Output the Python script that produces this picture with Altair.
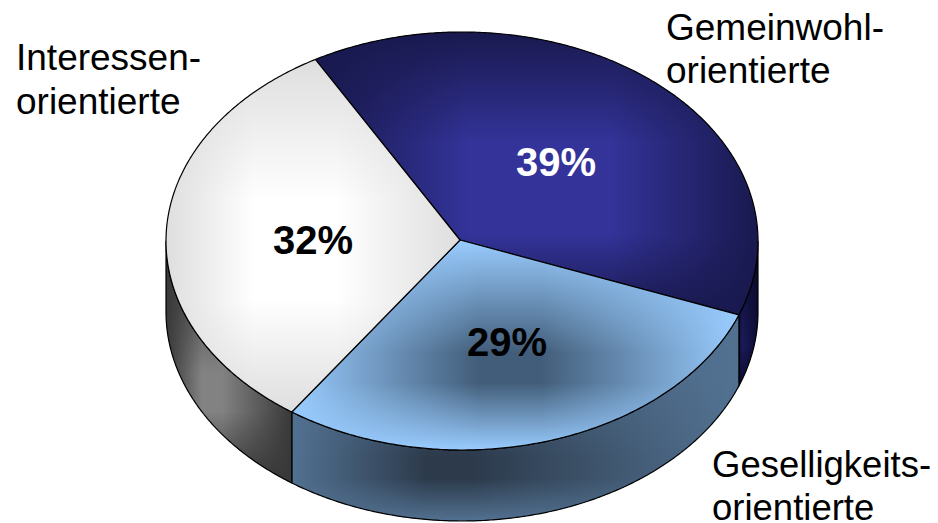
import math
import altair as alt
import pandas as pd

# --- chart values ---
categories = ["Gemeinwohlorientierte", "Geselligkeitsorientierte", "Interessenorientierte"]
shares = [39, 29, 32]
share_labels = ["39%", "29%", "32%"]
start_angle = -29.7

# --- drawing geometry (in picture pixels) ---
W, H = 922, 515
CX, CY, RX, RY, DEPTH = 462, 241, 296, 209, 71
HX, HY = 460, 240


def pt(deg, dy=0):
    a = math.radians(deg)
    return CX + RX * math.sin(a), CY - RY * math.cos(a) + dy


def arc(a0, a1, dy=0):
    n = max(2, int(abs(a1 - a0) * 2))
    return [pt(a0 + (a1 - a0) * i / n, dy) for i in range(n + 1)]


angles = [start_angle]
for s in shares:
    angles.append(angles[-1] + s / sum(shares) * 360)
a0, a1, a2, a3 = angles

x_scale = alt.Scale(domain=[8, 8 + W], range=[0, W], nice=False, zero=False)
y_scale = alt.Scale(domain=[8, 8 + H], range=[0, H], nice=False, zero=False)


def poly(points, fill, stroke="#000000", sw=1.2):
    df = pd.DataFrame(
        {"x": [p[0] for p in points] + [points[0][0]],
         "y": [p[1] for p in points] + [points[0][1]],
         "i": range(len(points) + 1)}
    )
    return alt.Chart(df).mark_line(
        fill=fill, stroke=stroke, strokeWidth=sw, interpolate="linear", strokeJoin="round"
    ).encode(
        x=alt.X("x:Q", scale=x_scale, axis=None),
        y=alt.Y("y:Q", scale=y_scale, axis=None),
        order="i:Q",
    )


def rgba(hexcol, a):
    r, g, b = int(hexcol[1:3], 16), int(hexcol[3:5], 16), int(hexcol[5:7], 16)
    return f"rgba({r},{g},{b},{a})"


def surface(points, cpx, cpy, inner, edge, plateau=0.0):
    """Rectangular 'path' shading: a horizontal ramp overlaid by a vertical fade to the edge colour."""
    xs = [p[0] for p in points]
    ys = [p[1] for p in points]
    fx = (cpx - min(xs)) / (max(xs) - min(xs))
    fy = (cpy - min(ys)) / (max(ys) - min(ys))
    hstops = [
        alt.GradientStop(offset=0, color=edge),
        alt.GradientStop(offset=max(0, fx - plateau), color=inner),
        alt.GradientStop(offset=min(1, fx + plateau), color=inner),
        alt.GradientStop(offset=1, color=edge),
    ]
    vstops = [
        alt.GradientStop(offset=0, color=rgba(edge, 1)),
        alt.GradientStop(offset=max(0, fy - plateau), color=rgba(edge, 0)),
        alt.GradientStop(offset=min(1, fy + plateau), color=rgba(edge, 0)),
        alt.GradientStop(offset=1, color=rgba(edge, 1)),
    ]
    base = poly(points, alt.Gradient(gradient="linear", x1=0, y1=0.5, x2=1, y2=0.5, stops=hstops), stroke="transparent")
    over = poly(points, alt.Gradient(gradient="linear", x1=0.5, y1=0, x2=0.5, y2=1, stops=vstops))
    return [base, over]


def wall(b0, b1):
    return arc(b0, b1) + arc(b1, b0, DEPTH)


def top(b0, b1):
    return [(HX, HY)] + arc(b0, b1)


layers = []
layers += surface(wall(90, a1), 742, 345, "#1b1b5c", "#0c0c30")
layers += surface(wall(a1, a2), 450, 468, "#2c3a4b", "#527191", plateau=0.05)
layers += surface(wall(a2, 270), 212, 392, "#828282", "#383838", plateau=0.08)
layers += surface(top(a0, a1), 540, 188, "#333399", "#19194f", plateau=0.16)
layers += surface(top(a1, a2), 510, 368, "#425d79", "#99ccff", plateau=0.07)
layers += surface(top(a2, a3), 295, 250, "#ffffff", "#dedede", plateau=0.14)

FONT = "Liberation Sans"
pct_pos = [(556, 164), (507, 344), (313, 242)]
pct_col = ["#ffffff", "#000000", "#000000"]
for txt, (px, py), col in zip(share_labels, pct_pos, pct_col):
    layers.append(
        alt.Chart(pd.DataFrame({"t": [txt]})).mark_text(
            font=FONT, fontSize=40, fontWeight="bold", color=col, align="center", baseline="middle",
            x=px - 8, y=py - 8,
        ).encode(text="t:N")
    )

name_lines = [
    ("Gemeinwohl-", 666, 29, 37), ("orientierte", 666, 72, 37),
    ("Geselligkeits-", 712, 466, 36.5), ("orientierte", 712, 509, 36.5),
    ("Interessen-", 16, 59, 37), ("orientierte", 16, 103, 37),
]
for txt, px, py, fs in name_lines:
    layers.append(
        alt.Chart(pd.DataFrame({"t": [txt]})).mark_text(
            font=FONT, fontSize=fs, color="#000000", align="left", baseline="middle",
            x=px - 8, y=py - 8,
        ).encode(text="t:N")
    )

chart = (
    alt.layer(*layers)
    .properties(width=W, height=H, padding=0, autosize=alt.AutoSizeParams(type="none"), background="#ffffff")
    .configure_view(stroke=None)
)
chart.save("out.html", embed_options={"renderer": "svg", "actions": False})
